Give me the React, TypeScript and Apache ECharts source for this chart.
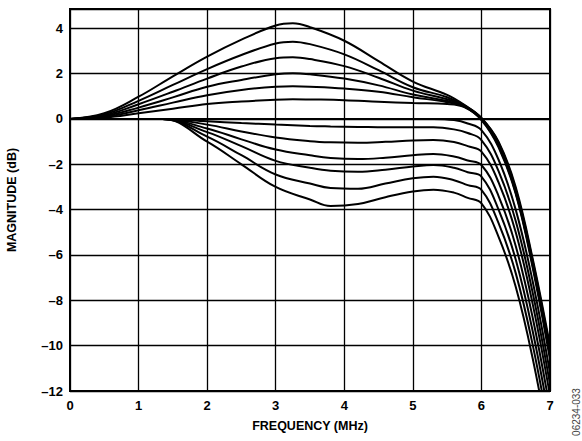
import React, { useEffect, useRef } from "react";
import * as echarts from "echarts";

// Frequency sample points (MHz)
const freqUpper = [0, 0.5, 1, 1.5, 2, 2.5, 3, 3.25, 3.5, 4, 4.5, 5, 5.5, 5.75, 6, 6.25, 6.5, 6.75, 7];
const freqLower = [0, 1.35, 2, 2.5, 3, 3.5, 3.8, 4.2, 4.6, 5, 5.3, 5.6, 5.8, 6, 6.25, 6.5, 6.75, 7];

// Boost curves (dB)
const up0 = [0, 0.25, 0.98, 1.88, 2.75, 3.5, 4.12, 4.22, 4.05, 3.45, 2.55, 1.65, 1.06, 0.62, 0.05, -1.0, -3.0, -6.2, -10.0];
const up1 = [0, 0.2, 0.8, 1.5, 2.2, 2.82, 3.33, 3.41, 3.3, 2.85, 2.15, 1.4, 0.96, 0.6, 0.03, -1.05, -3.1, -6.3, -10.15];
const up2 = [0, 0.16, 0.65, 1.2, 1.78, 2.31, 2.68, 2.72, 2.64, 2.33, 1.82, 1.25, 0.87, 0.58, 0.02, -1.1, -3.15, -6.4, -10.3];
const up3 = [0, 0.12, 0.5, 0.95, 1.42, 1.72, 1.97, 2.02, 1.97, 1.78, 1.48, 1.08, 0.79, 0.56, 0.0, -1.15, -3.2, -6.45, -10.4];
const up4 = [0, 0.09, 0.38, 0.72, 1.05, 1.28, 1.42, 1.44, 1.42, 1.34, 1.2, 0.96, 0.74, 0.55, -0.02, -1.2, -3.25, -6.5, -10.5];
const up5 = [0, 0.06, 0.25, 0.45, 0.66, 0.77, 0.85, 0.87, 0.86, 0.83, 0.76, 0.7, 0.66, 0.52, -0.05, -1.25, -3.3, -6.6, -10.6];

// Cut curves (dB)
const lo0 = [0, 0, 0, 0, 0, 0, 0, 0, 0, 0, 0, -0.05, -0.2, -0.49, -1.8, -4.0, -7.2, -11.2];
const lo1 = [0, 0, -0.1, -0.18, -0.25, -0.31, -0.33, -0.35, -0.37, -0.37, -0.37, -0.46, -0.62, -0.93, -2.3, -4.5, -7.7, -11.7];
const lo2 = [0, 0, -0.25, -0.55, -0.82, -0.98, -1.03, -1.05, -1.01, -0.95, -0.93, -1.02, -1.2, -1.44, -2.8, -5.0, -8.2, -12.2];
const lo3 = [0, 0, -0.42, -0.9, -1.35, -1.6, -1.72, -1.77, -1.71, -1.6, -1.55, -1.66, -1.83, -2.03, -3.4, -5.6, -8.8, -12.8];
const lo4 = [0, 0, -0.58, -1.2, -1.85, -2.15, -2.28, -2.33, -2.24, -2.1, -2.03, -2.15, -2.35, -2.54, -4.0, -6.2, -9.4, -13.4];
const lo5 = [0, 0, -0.78, -1.6, -2.45, -2.85, -3.05, -3.08, -2.85, -2.62, -2.55, -2.7, -2.92, -3.13, -4.6, -6.8, -10.0, -14.0];
const lo6 = [0, 0, -1.0, -2.0, -3.0, -3.55, -3.84, -3.75, -3.45, -3.2, -3.12, -3.25, -3.48, -3.72, -5.2, -7.4, -10.6, -14.6];

const upperCurves = [up0, up1, up2, up3, up4, up5];
const lowerCurves = [lo0, lo1, lo2, lo3, lo4, lo5, lo6];

const FONT = "'Liberation Sans', Arial, Helvetica, sans-serif";

export default function App() {
  const ref = useRef<HTMLDivElement>(null);
  useEffect(() => {
    if (!ref.current) return;
    const chart = echarts.init(ref.current, undefined, { renderer: "svg" });
    const mk = (xs: number[], ys: number[]) => ({
      type: "line",
      data: xs.map((x, i) => [x, ys[i]]),
      showSymbol: false,
      symbol: "none",
      smooth: 0.4,
      lineStyle: { color: "#000", width: 2 },
      clip: true,
      silent: true,
    });
    const series = [
      ...upperCurves.map((c) => mk(freqUpper, c)),
      ...lowerCurves.map((c) => mk(freqLower, c)),
    ];
    chart.setOption({
      animation: false,
      grid: {
        left: 70,
        right: 32,
        top: 9,
        bottom: 50,
        containLabel: false,
        outerBoundsMode: "none",
        show: true,
        borderColor: "#000",
        borderWidth: 2,
        backgroundColor: "transparent",
      },
      xAxis: {
        type: "value",
        min: 0,
        max: 7,
        interval: 1,
        name: "FREQUENCY (MHz)",
        nameLocation: "middle",
        nameGap: 28,
        nameTextStyle: { fontFamily: FONT, fontWeight: "bold", fontSize: 12.5, color: "#000" },
        axisLine: { show: true, lineStyle: { color: "#000", width: 2 } },
        axisTick: { show: false },
        axisLabel: { fontFamily: FONT, fontWeight: "bold", fontSize: 13, color: "#000", margin: 8 },
        splitLine: { show: true, lineStyle: { color: "#000", width: 1.3 } },
      },
      yAxis: {
        type: "value",
        min: -12,
        max: 4.85,
        interval: 2,
        name: "MAGNITUDE (dB)",
        nameLocation: "middle",
        nameGap: 52,
        nameRotate: 90,
        nameTextStyle: { fontFamily: FONT, fontWeight: "bold", fontSize: 12.5, color: "#000" },
        axisLine: { show: true, lineStyle: { color: "#000", width: 2 } },
        axisTick: { show: false },
        axisLabel: {
          fontFamily: FONT,
          fontWeight: "bold",
          fontSize: 13,
          color: "#000",
          margin: 7,
          showMaxLabel: false,
          formatter: (v: number) => {
            if (Math.abs(v - Math.round(v)) > 1e-6 || Math.round(v) % 2 !== 0) return "";
            return v < 0 ? "\u2013" + Math.abs(v) : String(v);
          },
        },
        splitLine: { show: true, lineStyle: { color: "#000", width: 1.3 } },
      },
      graphic: [
        {
          type: "text",
          x: 576,
          y: 412,
          rotation: Math.PI / 2,
          style: {
            text: "06234-033",
            fontFamily: FONT,
            fontSize: 10,
            fill: "#444",
            align: "center",
            verticalAlign: "middle",
          },
        },
      ],
      series,
    });
    return () => chart.dispose();
  }, []);
  return (
    <div
      ref={ref}
      style={{ position: "fixed", left: 0, top: 0, width: 582, height: 441, background: "#fff" }}
    />
  );
}
